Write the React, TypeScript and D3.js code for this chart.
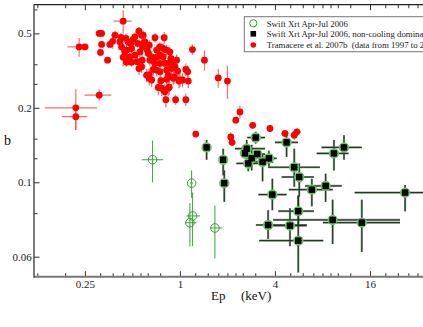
import React, { useEffect, useRef } from "react"
import * as d3 from "d3"

const xTicks = [0.25, 1, 4, 16]
const xTickLabels = ["0.25", "1", "4", "16"]
const xMinorTicks = [
  0.125, 0.1875, 0.3125, 0.375, 0.4375, 0.5, 0.5625, 0.625, 0.75, 1.25, 1.5, 1.75, 2, 2.25, 2.5, 3,
  5, 6, 7, 8, 9, 10, 12, 20, 24, 28, 32, 36,
]
const yTicks = [0.06, 0.12, 0.24, 0.48]
const yTickLabels = ["0.06", "0.1", "0.2", "0.5"]
const yMinorTicks = [0.09, 0.15, 0.18, 0.3, 0.36, 0.6]

const legendLabels = [
  "Swift Xrt Apr-Jul 2006",
  "Swift Xrt Apr-Jul 2006, non-cooling dominated",
  "Tramacere et al. 2007b  (data from 1997 to 2005)",
]

// Swift XRT, open green circles only: [Ep, EpLo, EpHi, b, bLo, bHi]
const swiftOnly = [
  [0.671, 0.573, 0.784, 0.148, 0.12, 0.177],
  [1.186, 1.16, 1.21, 0.119, 0.1035, 0.134],
  [1.203, 1.1, 1.34, 0.0877, 0.0662, 0.109],
  [1.157, 1.076, 1.275, 0.0823, 0.066, 0.0989],
  [1.666, 1.549, 1.865, 0.0784, 0.059, 0.0966],
]

// Swift XRT, non-cooling dominated (black squares in green circles)
const swiftNonCooling = [
  [1.476, 1.39, 1.565, 0.166, 0.148, 0.178],
  [1.88, 1.8, 1.96, 0.148, 0.128, 0.164],
  [1.91, 1.83, 2.0, 0.119, 0.1, 0.134],
  [3.02, 2.67, 3.46, 0.182, 0.172, 0.192],
  [2.65, 2.23, 3.46, 0.164, 0.148, 0.178],
  [2.58, 2.5, 2.66, 0.157, 0.15, 0.164],
  [2.85, 2.78, 2.92, 0.15, 0.134, 0.17],
  [3.09, 2.95, 3.46, 0.156, 0.15, 0.162],
  [2.71, 2.28, 3.21, 0.143, 0.133, 0.157],
  [3.34, 2.99, 3.9, 0.145, 0.121, 0.157],
  [3.66, 3.29, 4.1, 0.15, 0.139, 0.161],
  [4.74, 4.0, 5.6, 0.174, 0.152, 0.189],
  [5.3, 3.62, 7.71, 0.138, 0.115, 0.164],
  [5.7, 4.41, 7.06, 0.126, 0.105, 0.143],
  [3.85, 3.14, 4.74, 0.107, 0.0925, 0.124],
  [6.85, 4.9, 9.3, 0.112, 0.096, 0.124],
  [8.38, 6.2, 10.6, 0.116, 0.1, 0.13],
  [9.46, 7.35, 11.7, 0.157, 0.134, 0.178],
  [10.95, 7.9, 14.2, 0.166, 0.148, 0.186],
  [26.7, 12.8, 38.0, 0.109, 0.0915, 0.117],
  [5.62, 4.2, 7.06, 0.0917, 0.0795, 0.106],
  [9.28, 3.9, 24.8, 0.0845, 0.0675, 0.102],
  [14.2, 8.06, 24.8, 0.0824, 0.0627, 0.102],
  [3.62, 3.03, 6.35, 0.0806, 0.0707, 0.0925],
  [4.98, 3.9, 6.35, 0.0801, 0.0662, 0.0942],
  [5.62, 3.18, 8.1, 0.0697, 0.0518, 0.106],
]

// Tramacere et al. 2007b: [Ep, b, errEp, errB]
const tramacere = [
  [0.23, 0.423, 0.036, 0.037],
  [0.25, 0.423, 0.008, 0.008],
  [0.308, 0.48, 0.01, 0.01],
  [0.319, 0.48, 0.012, 0.01],
  [0.319, 0.433, 0.01, 0.012],
  [0.314, 0.402, 0.01, 0.01],
  [0.348, 0.374, 0.012, 0.01],
  [0.437, 0.538, 0.058, 0.058],
  [0.308, 0.27, 0.06, 0.015],
  [0.219, 0.24, 0.08, 0.045],
  [0.219, 0.221, 0.04, 0.026],
  [1.26, 0.188, 0.02, 0.005],
  [1.09, 0.259, 0.01, 0.015],
  [0.939, 0.259, 0.01, 0.012],
  [0.815, 0.259, 0.01, 0.018],
  [1.2, 0.413, 0.02, 0.02],
  [1.43, 0.374, 0.01, 0.035],
  [1.75, 0.317, 0.015, 0.028],
  [2.0, 0.308, 0.015, 0.047],
  [2.4, 0.231, 0.02, 0.014],
  [2.26, 0.214, 0.01, 0.006],
  [2.89, 0.204, 0.01, 0.006],
  [3.72, 0.198, 0.01, 0.006],
  [2.1, 0.183, 0.01, 0.008],
  [2.14, 0.174, 0.01, 0.006],
  [4.63, 0.189, 0.25, 0.005],
  [5.3, 0.186, 0.3, 0.008],
  [5.51, 0.192, 0.35, 0.006],
  [0.388, 0.472, 0.02, 0.02],
  [0.375, 0.446, 0.015, 0.03],
  [0.36, 0.433, 0.015, 0.015],
  [0.423, 0.462, 0.02, 0.02],
  [0.455, 0.458, 0.02, 0.02],
  [0.47, 0.443, 0.02, 0.015],
  [0.487, 0.437, 0.02, 0.02],
  [0.506, 0.454, 0.02, 0.015],
  [0.55, 0.49, 0.025, 0.02],
  [0.572, 0.472, 0.02, 0.02],
  [0.519, 0.465, 0.02, 0.02],
  [0.6, 0.443, 0.03, 0.02],
  [0.539, 0.437, 0.02, 0.015],
  [0.494, 0.417, 0.02, 0.02],
  [0.459, 0.411, 0.02, 0.02],
  [0.427, 0.423, 0.02, 0.02],
  [0.437, 0.384, 0.015, 0.03],
  [0.448, 0.404, 0.02, 0.02],
  [0.417, 0.443, 0.02, 0.02],
  [0.695, 0.461, 0.02, 0.02],
  [0.795, 0.461, 0.02, 0.025],
  [0.58, 0.423, 0.03, 0.02],
  [0.621, 0.411, 0.03, 0.02],
  [0.558, 0.404, 0.02, 0.02],
  [0.519, 0.392, 0.02, 0.02],
  [0.482, 0.386, 0.02, 0.02],
  [0.459, 0.367, 0.02, 0.015],
  [0.494, 0.367, 0.02, 0.015],
  [0.536, 0.369, 0.02, 0.015],
  [0.577, 0.374, 0.02, 0.02],
  [0.572, 0.352, 0.02, 0.02],
  [0.55, 0.346, 0.02, 0.02],
  [0.63, 0.398, 0.03, 0.02],
  [0.662, 0.386, 0.03, 0.02],
  [0.645, 0.374, 0.03, 0.02],
  [0.678, 0.371, 0.03, 0.02],
  [0.712, 0.411, 0.03, 0.02],
  [0.747, 0.423, 0.03, 0.02],
  [0.784, 0.417, 0.03, 0.02],
  [0.823, 0.411, 0.03, 0.02],
  [0.864, 0.404, 0.03, 0.02],
  [0.877, 0.38, 0.03, 0.02],
  [0.784, 0.386, 0.03, 0.02],
  [0.747, 0.392, 0.03, 0.02],
  [0.718, 0.386, 0.03, 0.02],
  [0.695, 0.363, 0.03, 0.02],
  [0.747, 0.363, 0.03, 0.02],
  [0.803, 0.363, 0.03, 0.02],
  [0.843, 0.363, 0.03, 0.02],
  [0.907, 0.369, 0.03, 0.02],
  [0.953, 0.374, 0.03, 0.02],
  [0.886, 0.346, 0.03, 0.02],
  [0.823, 0.341, 0.03, 0.02],
  [0.747, 0.336, 0.03, 0.02],
  [0.712, 0.341, 0.03, 0.02],
  [0.678, 0.343, 0.03, 0.02],
  [0.639, 0.327, 0.03, 0.02],
  [0.639, 0.316, 0.03, 0.02],
  [0.758, 0.309, 0.03, 0.02],
  [0.823, 0.313, 0.03, 0.02],
  [0.843, 0.325, 0.03, 0.02],
  [0.92, 0.32, 0.03, 0.02],
  [0.967, 0.338, 0.03, 0.02],
  [0.986, 0.308, 0.03, 0.02],
  [1.04, 0.311, 0.03, 0.02],
  [1.09, 0.343, 0.03, 0.02],
  [1.12, 0.336, 0.03, 0.02],
  [1.13, 0.308, 0.03, 0.02],
  [0.729, 0.29, 0.03, 0.02],
  [0.766, 0.288, 0.03, 0.02],
  [0.803, 0.279, 0.03, 0.02],
  [0.855, 0.291, 0.03, 0.02],
  [0.442, 0.386, 0.02, 0.02],
  [0.585, 0.472, 0.03, 0.02],
  [0.615, 0.325, 0.03, 0.02],
  [0.662, 0.311, 0.03, 0.02],
  [0.843, 0.288, 0.03, 0.02],
  [0.907, 0.316, 0.03, 0.02],
  [1.0, 0.311, 0.03, 0.02],
  [0.93, 0.352, 0.03, 0.02],
  [0.585, 0.437, 0.03, 0.02],
  [0.639, 0.43, 0.03, 0.02],
]

const FONT = "'Liberation Serif', 'Times New Roman', serif"

export default function App() {
  const ref = useRef<SVGSVGElement>(null)

  useEffect(() => {
    const svg = d3.select(ref.current)
    svg.selectAll("*").remove()

    const x = d3.scaleLog().domain([0.119, 38.4]).range([34, 430])
    const y = d3.scaleLog().domain([0.0498, 0.627]).range([276.7, 4.7])
    const [y0, y1] = y.range()

    svg
      .append("defs")
      .append("clipPath")
      .attr("id", "plotclip")
      .append("rect")
      .attr("x", 34)
      .attr("y", y1)
      .attr("width", 400)
      .attr("height", y0 - y1)

    const plot = svg.append("g").attr("clip-path", "url(#plotclip)")

    // green open-circle set (all swift points)
    const greenAll = swiftOnly.concat(swiftNonCooling)
    const errG = plot.append("g")
    greenAll.forEach((d, i) => {
      const onlyGreen = i < swiftOnly.length
      const col = onlyGreen ? "#3aa83a" : "#8a9a8a"
      errG
        .append("line")
        .attr("x1", x(d[1]))
        .attr("x2", x(d[2]))
        .attr("y1", y(d[3]))
        .attr("y2", y(d[3]))
        .attr("stroke", col)
        .attr("stroke-width", onlyGreen ? 1 : 2.2)
      errG
        .append("line")
        .attr("x1", x(d[0]))
        .attr("x2", x(d[0]))
        .attr("y1", y(d[4]))
        .attr("y2", y(d[5]))
        .attr("stroke", col)
        .attr("stroke-width", onlyGreen ? 1 : 2.2)
    })

    // black set error bars
    swiftNonCooling.forEach((d) => {
      errG
        .append("line")
        .attr("x1", x(d[1]))
        .attr("x2", x(d[2]))
        .attr("y1", y(d[3]))
        .attr("y2", y(d[3]))
        .attr("stroke", "#163016")
        .attr("stroke-width", 1)
      errG
        .append("line")
        .attr("x1", x(d[0]))
        .attr("x2", x(d[0]))
        .attr("y1", y(d[4]))
        .attr("y2", y(d[5]))
        .attr("stroke", "#163016")
        .attr("stroke-width", 1)
    })

    plot
      .selectAll("circle.green")
      .data(greenAll)
      .enter()
      .append("circle")
      .attr("class", "green")
      .attr("cx", (d) => x(d[0]))
      .attr("cy", (d) => y(d[3]))
      .attr("r", 4.3)
      .attr("fill", "none")
      .attr("stroke", (d, i) => (i < swiftOnly.length ? "#2ea02e" : "#66c466"))
      .attr("stroke-width", (d, i) => (i < swiftOnly.length ? 1 : 1.8))

    plot
      .selectAll("rect.black")
      .data(swiftNonCooling)
      .enter()
      .append("rect")
      .attr("class", "black")
      .attr("x", (d) => x(d[0]) - 3.2)
      .attr("y", (d) => y(d[3]) - 3.2)
      .attr("width", 6.4)
      .attr("height", 6.4)
      .attr("fill", "#000")

    // red set
    const errR = plot.append("g").attr("stroke", "#ff3a3a").attr("stroke-opacity", 0.75)
    tramacere.forEach((d) => {
      errR
        .append("line")
        .attr("x1", x(d[0] - d[2]))
        .attr("x2", x(d[0] + d[2]))
        .attr("y1", y(d[1]))
        .attr("y2", y(d[1]))
        .attr("stroke-width", 1.2)
      errR
        .append("line")
        .attr("x1", x(d[0]))
        .attr("x2", x(d[0]))
        .attr("y1", y(d[1] - d[3]))
        .attr("y2", y(d[1] + d[3]))
        .attr("stroke-width", 1.2)
    })
    plot
      .selectAll("circle.red")
      .data(tramacere)
      .enter()
      .append("circle")
      .attr("class", "red")
      .attr("cx", (d) => x(d[0]))
      .attr("cy", (d) => y(d[1]))
      .attr("r", 3.4)
      .attr("fill", "#ff0000")

    // axes
    const bottom = svg.append("g").attr("transform", `translate(0,${y0})`)
    bottom.call(
      d3
        .axisBottom(x)
        .tickValues(xTicks)
        .tickFormat((d, i) => xTickLabels[i])
        .tickSizeInner(-5.5)
        .tickSizeOuter(0)
        .tickPadding(3.5)
    )
    bottom.append("g").call(
      d3.axisBottom(x).tickValues(xMinorTicks).tickFormat(() => "").tickSizeInner(-3.5).tickSizeOuter(0)
    )
    const top = svg.append("g").attr("transform", `translate(0,${y1})`)
    top.call(d3.axisBottom(x).tickValues(xTicks).tickFormat(() => "").tickSizeInner(5.5).tickSizeOuter(0))
    top.append("g").call(
      d3.axisBottom(x).tickValues(xMinorTicks).tickFormat(() => "").tickSizeInner(3.5).tickSizeOuter(0)
    )
    const left = svg.append("g").attr("transform", "translate(34,0)")
    left.call(
      d3
        .axisLeft(y)
        .tickValues(yTicks)
        .tickFormat((d, i) => yTickLabels[i])
        .tickSizeInner(-5.5)
        .tickSizeOuter(0)
        .tickPadding(2.3)
    )
    left.append("g").call(
      d3.axisLeft(y).tickValues(yMinorTicks).tickFormat(() => "").tickSizeInner(-3.5).tickSizeOuter(0)
    )

    svg.selectAll(".domain").remove()
    svg.selectAll(".tick line").attr("stroke", "#333").attr("stroke-width", 1)
    svg
      .selectAll(".tick text")
      .attr("font-family", FONT)
      .attr("font-size", 11)
      .attr("fill", "#222")

    svg
      .append("line")
      .attr("x1", 34)
      .attr("x2", 430)
      .attr("y1", y1)
      .attr("y2", y1)
      .attr("stroke", "#222")
      .attr("stroke-width", 1.2)
    svg
      .append("line")
      .attr("x1", 34)
      .attr("x2", 430)
      .attr("y1", y0)
      .attr("y2", y0)
      .attr("stroke", "#777")
      .attr("stroke-width", 2)
    svg
      .append("line")
      .attr("x1", 34)
      .attr("x2", 34)
      .attr("y1", y1)
      .attr("y2", y0 + 1)
      .attr("stroke", "#444")
      .attr("stroke-width", 1.4)

    // axis titles
    svg
      .append("text")
      .attr("x", 211)
      .attr("y", 299.5)
      .attr("font-family", FONT)
      .attr("font-size", 13)
      .attr("fill", "#111")
      .text("Ep")
    svg
      .append("text")
      .attr("x", 241)
      .attr("y", 299.5)
      .attr("font-family", FONT)
      .attr("font-size", 13)
      .attr("fill", "#111")
      .text("(keV)")
    svg
      .append("text")
      .attr("x", 4)
      .attr("y", 145)
      .attr("font-family", FONT)
      .attr("font-size", 14)
      .attr("fill", "#111")
      .text("b")

    // legend (runs past the right edge, as in the original figure)
    const lg = svg.append("g")
    lg.append("rect")
      .attr("x", 244.3)
      .attr("y", 16.7)
      .attr("width", 230)
      .attr("height", 35)
      .attr("fill", "#fff")
      .attr("stroke", "#777")
      .attr("stroke-width", 1)
    const rows = [23.3, 33.8, 45]
    lg.append("circle")
      .attr("cx", 253.3)
      .attr("cy", rows[0])
      .attr("r", 3.6)
      .attr("fill", "none")
      .attr("stroke", "#2ea02e")
      .attr("stroke-width", 1)
    lg.append("rect")
      .attr("x", 250.5)
      .attr("y", rows[1] - 2.8)
      .attr("width", 5.6)
      .attr("height", 5.6)
      .attr("fill", "#000")
    lg.append("circle").attr("cx", 253.3).attr("cy", rows[2]).attr("r", 2.8).attr("fill", "#ff0000")
    lg.selectAll("text.leg")
      .data(legendLabels)
      .enter()
      .append("text")
      .attr("class", "leg")
      .attr("x", 266.7)
      .attr("y", (d, i) => rows[i] + 3.2)
      .attr("font-family", FONT)
      .attr("font-size", 8.8)
      .attr("fill", "#222")
      .attr("xml:space", "preserve")
      .style("white-space", "pre")
      .text((d) => d)
  }, [])

  return (
    <svg
      ref={ref}
      width={423}
      height={327}
      style={{ position: "absolute", left: 0, top: 0, background: "#fff" }}
    ></svg>
  )
}
